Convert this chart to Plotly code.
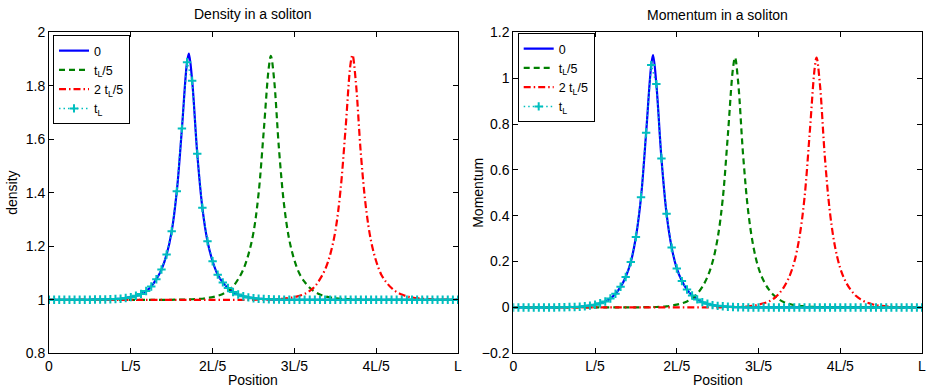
import plotly.graph_objects as go

# ---------------- data ----------------
# sample positions, as fractions of the domain length L (81 grid points)
n_cells = 80
grid_pos = [i / n_cells for i in range(n_cells + 1)]

x_tick_vals = [0, 0.2, 0.4, 0.6, 0.8, 1.0]
x_tick_text = ["0", "L/5", "2L/5", "3L/5", "4L/5", "L"]

series_names = ["0", "t<sub>L</sub>/5", "2 t<sub>L</sub>/5", "t<sub>L</sub>"]

# peak positions / heights between grid samples (for the solid/dashed curves)
peak_pos = [0.342, 0.5425, 0.742]
density_peak = [1.920, 1.912, 1.915]
momentum_peak = [1.101, 1.090, 1.090]

density_0 = [
    1.000, 1.000, 1.000, 1.000, 1.000, 1.000, 1.000, 1.000, 1.000, 1.001,
    1.001, 1.001, 1.002, 1.003, 1.004, 1.007, 1.010, 1.015, 1.022, 1.033,
    1.050, 1.077, 1.113, 1.169, 1.256, 1.406, 1.640, 1.888, 1.819, 1.546,
    1.344, 1.219, 1.144, 1.094, 1.065, 1.044, 1.029, 1.020, 1.013, 1.009,
    1.006, 1.004, 1.003, 1.002, 1.001, 1.001, 1.000, 1.000, 1.000, 1.000,
    1.000, 1.000, 1.000, 1.000, 1.000, 1.000, 1.000, 1.000, 1.000, 1.000,
    1.000, 1.000, 1.000, 1.000, 1.000, 1.000, 1.000, 1.000, 1.000, 1.000,
    1.000, 1.000, 1.000, 1.000, 1.000, 1.000, 1.000, 1.000, 1.000, 1.000,
    1.000,
]
density_1 = [
    1.000, 1.000, 1.000, 1.000, 1.000, 1.000, 1.000, 1.000, 1.000, 1.000,
    1.000, 1.000, 1.000, 1.000, 1.000, 1.000, 1.000, 1.000, 1.000, 1.000,
    1.000, 1.000, 1.000, 1.000, 1.000, 1.001, 1.001, 1.001, 1.002, 1.003,
    1.004, 1.007, 1.010, 1.015, 1.022, 1.033, 1.050, 1.077, 1.113, 1.169,
    1.252, 1.398, 1.630, 1.870, 1.830, 1.560, 1.352, 1.224, 1.148, 1.097,
    1.067, 1.045, 1.030, 1.020, 1.013, 1.009, 1.006, 1.004, 1.003, 1.002,
    1.001, 1.001, 1.000, 1.000, 1.000, 1.000, 1.000, 1.000, 1.000, 1.000,
    1.000, 1.000, 1.000, 1.000, 1.000, 1.000, 1.000, 1.000, 1.000, 1.000,
    1.000,
]
density_2 = [
    1.000, 1.000, 1.000, 1.000, 1.000, 1.000, 1.000, 1.000, 1.000, 1.000,
    1.000, 1.000, 1.000, 1.000, 1.000, 1.000, 1.000, 1.000, 1.000, 1.000,
    1.000, 1.000, 1.000, 1.000, 1.000, 1.000, 1.000, 1.000, 1.000, 1.000,
    1.000, 1.000, 1.000, 1.000, 1.000, 1.000, 1.000, 1.000, 1.000, 1.000,
    1.000, 1.001, 1.001, 1.001, 1.002, 1.003, 1.004, 1.007, 1.010, 1.015,
    1.022, 1.033, 1.050, 1.077, 1.113, 1.169, 1.256, 1.406, 1.638, 1.885,
    1.818, 1.546, 1.344, 1.219, 1.144, 1.094, 1.065, 1.044, 1.029, 1.020,
    1.013, 1.009, 1.006, 1.004, 1.003, 1.002, 1.001, 1.001, 1.000, 1.000,
    1.000,
]
density_tL = [
    1.000, 1.000, 1.000, 1.000, 1.000, 1.000, 1.000, 1.000, 1.000, 1.001,
    1.001, 1.001, 1.002, 1.003, 1.004, 1.007, 1.010, 1.015, 1.022, 1.033,
    1.050, 1.077, 1.113, 1.169, 1.256, 1.406, 1.640, 1.888, 1.819, 1.546,
    1.344, 1.219, 1.144, 1.094, 1.065, 1.044, 1.029, 1.020, 1.013, 1.009,
    1.006, 1.004, 1.003, 1.002, 1.001, 1.001, 1.000, 1.000, 1.000, 1.000,
    1.000, 1.000, 1.000, 1.000, 1.000, 1.000, 1.000, 1.000, 1.000, 1.000,
    1.000, 1.000, 1.000, 1.000, 1.000, 1.000, 1.000, 1.000, 1.000, 1.000,
    1.000, 1.000, 1.000, 1.000, 1.000, 1.000, 1.000, 1.000, 1.000, 1.000,
    1.000,
]

momentum_0 = [
    0.000, 0.000, 0.000, 0.000, 0.000, 0.000, 0.000, 0.000, 0.000, 0.001,
    0.001, 0.002, 0.002, 0.003, 0.005, 0.008, 0.012, 0.018, 0.026, 0.039,
    0.060, 0.090, 0.133, 0.198, 0.307, 0.481, 0.762, 1.057, 0.974, 0.650,
    0.409, 0.261, 0.170, 0.115, 0.078, 0.052, 0.035, 0.023, 0.016, 0.010,
    0.007, 0.005, 0.003, 0.002, 0.001, 0.001, 0.000, 0.000, 0.000, 0.000,
    0.000, 0.000, 0.000, 0.000, 0.000, 0.000, 0.000, 0.000, 0.000, 0.000,
    0.000, 0.000, 0.000, 0.000, 0.000, 0.000, 0.000, 0.000, 0.000, 0.000,
    0.000, 0.000, 0.000, 0.000, 0.000, 0.000, 0.000, 0.000, 0.000, 0.000,
    0.000,
]
momentum_1 = [
    0.000, 0.000, 0.000, 0.000, 0.000, 0.000, 0.000, 0.000, 0.000, 0.000,
    0.000, 0.000, 0.000, 0.000, 0.000, 0.000, 0.000, 0.000, 0.000, 0.000,
    0.000, 0.000, 0.000, 0.000, 0.000, 0.001, 0.001, 0.002, 0.002, 0.003,
    0.005, 0.008, 0.012, 0.018, 0.026, 0.039, 0.060, 0.090, 0.133, 0.198,
    0.302, 0.474, 0.752, 1.042, 0.986, 0.660, 0.415, 0.265, 0.172, 0.116,
    0.079, 0.053, 0.035, 0.023, 0.016, 0.010, 0.007, 0.005, 0.003, 0.002,
    0.001, 0.001, 0.000, 0.000, 0.000, 0.000, 0.000, 0.000, 0.000, 0.000,
    0.000, 0.000, 0.000, 0.000, 0.000, 0.000, 0.000, 0.000, 0.000, 0.000,
    0.000,
]
momentum_2 = [
    0.000, 0.000, 0.000, 0.000, 0.000, 0.000, 0.000, 0.000, 0.000, 0.000,
    0.000, 0.000, 0.000, 0.000, 0.000, 0.000, 0.000, 0.000, 0.000, 0.000,
    0.000, 0.000, 0.000, 0.000, 0.000, 0.000, 0.000, 0.000, 0.000, 0.000,
    0.000, 0.000, 0.000, 0.000, 0.000, 0.000, 0.000, 0.000, 0.000, 0.000,
    0.000, 0.001, 0.001, 0.002, 0.002, 0.003, 0.005, 0.008, 0.012, 0.018,
    0.026, 0.039, 0.060, 0.090, 0.133, 0.198, 0.305, 0.478, 0.755, 1.045,
    0.978, 0.652, 0.411, 0.262, 0.171, 0.115, 0.078, 0.052, 0.035, 0.023,
    0.016, 0.010, 0.007, 0.005, 0.003, 0.002, 0.001, 0.001, 0.000, 0.000,
    0.000,
]
momentum_tL = [
    0.000, 0.000, 0.000, 0.000, 0.000, 0.000, 0.000, 0.000, 0.000, 0.001,
    0.001, 0.002, 0.002, 0.003, 0.005, 0.008, 0.012, 0.018, 0.026, 0.039,
    0.060, 0.090, 0.133, 0.198, 0.307, 0.481, 0.762, 1.057, 0.974, 0.650,
    0.409, 0.261, 0.170, 0.115, 0.078, 0.052, 0.035, 0.023, 0.016, 0.010,
    0.007, 0.005, 0.003, 0.002, 0.001, 0.001, 0.000, 0.000, 0.000, 0.000,
    0.000, 0.000, 0.000, 0.000, 0.000, 0.000, 0.000, 0.000, 0.000, 0.000,
    0.000, 0.000, 0.000, 0.000, 0.000, 0.000, 0.000, 0.000, 0.000, 0.000,
    0.000, 0.000, 0.000, 0.000, 0.000, 0.000, 0.000, 0.000, 0.000, 0.000,
    0.000,
]

# ---------------- helpers ----------------
def with_peak(values, ppos, pval):
    pts = sorted(list(zip(grid_pos, values)) + [(ppos, pval)])
    return [p[0] for p in pts], [p[1] for p in pts]


FONT = "Liberation Sans, Arial, Helvetica, sans-serif"
COL = ["#0000ff", "#008000", "#ff0000", "#00bfbf"]
DASH = ["solid", "6px,4px", "7px,3px,1.5px,3px", "1.5px,3px"]

fig = go.Figure()

panels = [
    ([density_0, density_1, density_2, density_tL], density_peak, "x", "y", "legend"),
    ([momentum_0, momentum_1, momentum_2, momentum_tL], momentum_peak, "x2", "y2", "legend2"),
]

for vals, peaks, xa, ya, lg in panels:
    for k in range(3):
        xs, ys = with_peak(vals[k], peak_pos[k], peaks[k])
        fig.add_trace(go.Scatter(
            x=xs, y=ys, mode="lines", name=series_names[k],
            line=dict(color=COL[k], width=2.2, dash=DASH[k], shape="spline", smoothing=1.0),
            xaxis=xa, yaxis=ya, legend=lg,
        ))
    fig.add_trace(go.Scatter(
        x=grid_pos, y=vals[3], mode="lines+markers", name=series_names[3],
        line=dict(color=COL[3], width=1.5, dash=DASH[3]),
        marker=dict(symbol="cross-thin", size=6, line=dict(color=COL[3], width=2), color=COL[3]),
        xaxis=xa, yaxis=ya, legend=lg,
    ))

W, H = 927, 390
xd1 = [49 / W, 458 / W]
xd2 = [513.3 / W, 922 / W]
yd = [1 - 353.3 / H, 1 - 32.3 / H]

axis_common = dict(
    showline=True, linecolor="black", linewidth=1, mirror="allticks",
    ticks="inside", ticklen=5, tickwidth=1, tickcolor="black",
    showgrid=False, zeroline=False, automargin=False,
    tickfont=dict(family=FONT, size=14, color="black"),
)

legend_common = dict(
    xanchor="left", yanchor="top",
    bgcolor="white", bordercolor="black", borderwidth=1,
    font=dict(family=FONT, size=12.5, color="black"), tracegroupgap=0,
)

fig.update_layout(
    width=W, height=H,
    margin=dict(l=0, r=0, t=0, b=0, pad=0, autoexpand=False),
    paper_bgcolor="white", plot_bgcolor="white",
    font=dict(family=FONT, size=14, color="black"),
    xaxis=dict(domain=xd1, range=[0, 1], tickvals=x_tick_vals, ticktext=x_tick_text,
               anchor="y", **axis_common),
    yaxis=dict(domain=yd, range=[0.8, 2.0], tick0=0.8, dtick=0.2, anchor="x", **axis_common),
    xaxis2=dict(domain=xd2, range=[0, 1], tickvals=x_tick_vals, ticktext=x_tick_text,
                anchor="y2", **axis_common),
    yaxis2=dict(domain=yd, range=[-0.2, 1.2], tick0=-0.2, dtick=0.2, anchor="x2", **axis_common),
    legend=dict(x=53 / W, y=1 - 35 / H, **legend_common),
    legend2=dict(x=517.7 / W, y=1 - 33 / H, **legend_common),
    showlegend=True,
    hovermode=False,
)

ann = [
    dict(text="Density in a soliton", x=(xd1[0] + xd1[1]) / 2, y=1 - 14 / H),
    dict(text="Momentum in a soliton", x=(xd2[0] + xd2[1]) / 2, y=1 - 15 / H),
    dict(text="Position", x=(xd1[0] + xd1[1]) / 2, y=1 - 380 / H),
    dict(text="Position", x=(xd2[0] + xd2[1]) / 2, y=1 - 380 / H),
    dict(text="density", x=12 / W, y=(yd[0] + yd[1]) / 2, textangle=-90),
    dict(text="Momentum", x=478 / W, y=(yd[0] + yd[1]) / 2, textangle=-90),
]
for a in ann:
    fig.add_annotation(xref="paper", yref="paper", showarrow=False,
                       xanchor="center", yanchor="middle",
                       font=dict(family=FONT, size=14, color="black"), **a)

# remove the default page margin so the figure sits at the window's top-left corner
fig.write_html("out.html",
               config={"displayModeBar": False},
               post_script="document.body.style.margin='0';document.body.style.overflow='hidden';")
